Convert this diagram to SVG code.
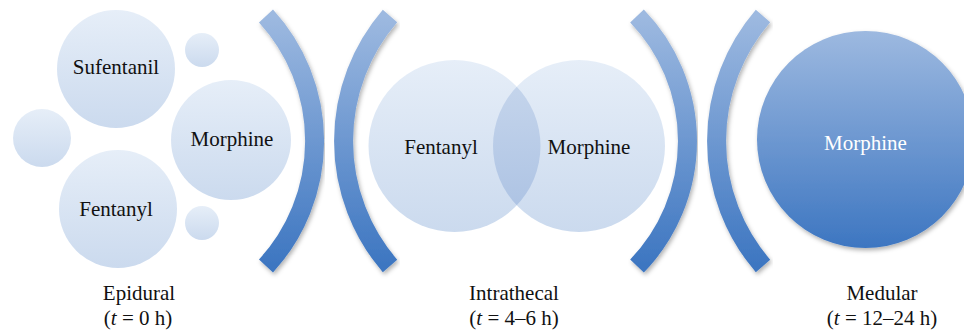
<svg xmlns="http://www.w3.org/2000/svg" width="964" height="335" viewBox="0 0 964 335">
  <defs>
    <linearGradient id="light" x1="0" y1="0" x2="0" y2="1">
      <stop offset="0" stop-color="#e6eef8"/>
      <stop offset="1" stop-color="#cbdaee"/>
    </linearGradient>
    <linearGradient id="lens" x1="0" y1="0" x2="0" y2="1">
      <stop offset="0" stop-color="#c9d8ed"/>
      <stop offset="1" stop-color="#a9c0e2"/>
    </linearGradient>
    <linearGradient id="blue" x1="0" y1="0" x2="0" y2="1">
      <stop offset="0" stop-color="#9db9e0"/>
      <stop offset="1" stop-color="#3d76c1"/>
    </linearGradient>
    <filter id="shadow" x="-20%" y="-20%" width="140%" height="140%">
      <feDropShadow dx="1.5" dy="2.5" stdDeviation="2" flood-color="#000" flood-opacity="0.3"/>
    </filter>
    <clipPath id="clipFent">
      <circle cx="454.5" cy="146" r="86"/>
    </clipPath>
  </defs>
  <style>
    .light { fill: url(#light); }
    .arc { fill: none; stroke: url(#blue); stroke-width: 19; filter: url(#shadow); }
    text { font-family: "Liberation Serif", "DejaVu Serif", serif; font-size: 21px; text-anchor: middle; }
    .lbl { fill: #111111; }
    .wlbl { fill: #ffffff; }
  </style>

  <g font-family="Liberation Serif, serif" font-size="21" text-anchor="middle">
  <!-- Epidural group -->
  <g id="sufentanil">
    <circle class="light" cx="116" cy="69" r="59"/>
    <text class="lbl" x="116" y="74">Sufentanil</text>
  </g>
  <g id="fentanyl-epidural">
    <circle class="light" cx="118" cy="209" r="59"/>
    <text class="lbl" x="116" y="216">Fentanyl</text>
  </g>
  <g id="morphine-epidural">
    <circle class="light" cx="231" cy="140" r="60"/>
    <text class="lbl" x="232" y="146">Morphine</text>
  </g>
  <g id="small-left">
    <circle class="light" cx="42" cy="138" r="29"/>
  </g>
  <g id="small-top">
    <circle class="light" cx="202" cy="50" r="17"/>
  </g>
  <g id="small-bottom">
    <circle class="light" cx="202" cy="223" r="17"/>
  </g>

  <!-- Intrathecal Venn -->
  <g id="fentanyl-intrathecal">
    <circle class="light" cx="454.5" cy="146" r="86"/>
  </g>
  <g id="morphine-intrathecal">
    <circle class="light" cx="579" cy="146" r="86"/>
  </g>
  <g id="overlap">
    <circle cx="579" cy="146" r="86" fill="url(#lens)" clip-path="url(#clipFent)"/>
  </g>
  <g id="venn-labels">
    <text class="lbl" x="441" y="154">Fentanyl</text>
    <text class="lbl" x="589" y="154">Morphine</text>
  </g>

  <!-- Medular -->
  <g id="morphine-medular">
    <circle cx="865.5" cy="139.5" r="108.5" fill="url(#blue)" filter="url(#shadow)"/>
    <text class="wlbl" x="865.5" y="150">Morphine</text>
  </g>

  <!-- Bracket separators -->
  <g id="connectors">
    <path class="arc" d="M 266 16 A 185 185 0 0 1 266 266"/>
    <path class="arc" d="M 390 16 A 191.5 191.5 0 0 0 390 266"/>
    <path class="arc" d="M 637 16 A 180 180 0 0 1 637 266"/>
    <path class="arc" d="M 763 16 A 191.5 191.5 0 0 0 763 266"/>
  </g>

  <!-- Stage labels -->
  <g id="label-epidural">
    <text class="lbl" x="139" y="300">Epidural</text>
    <text class="lbl" x="138" y="325">(<tspan font-style="italic">t</tspan> = 0 h)</text>
  </g>
  <g id="label-intrathecal">
    <text class="lbl" x="514" y="300">Intrathecal</text>
    <text class="lbl" x="514" y="325">(<tspan font-style="italic">t</tspan> = 4–6 h)</text>
  </g>
  <g id="label-medular">
    <text class="lbl" x="882" y="300">Medular</text>
    <text class="lbl" x="882" y="325">(<tspan font-style="italic">t</tspan> = 12–24 h)</text>
  </g>
  </g>
</svg>
